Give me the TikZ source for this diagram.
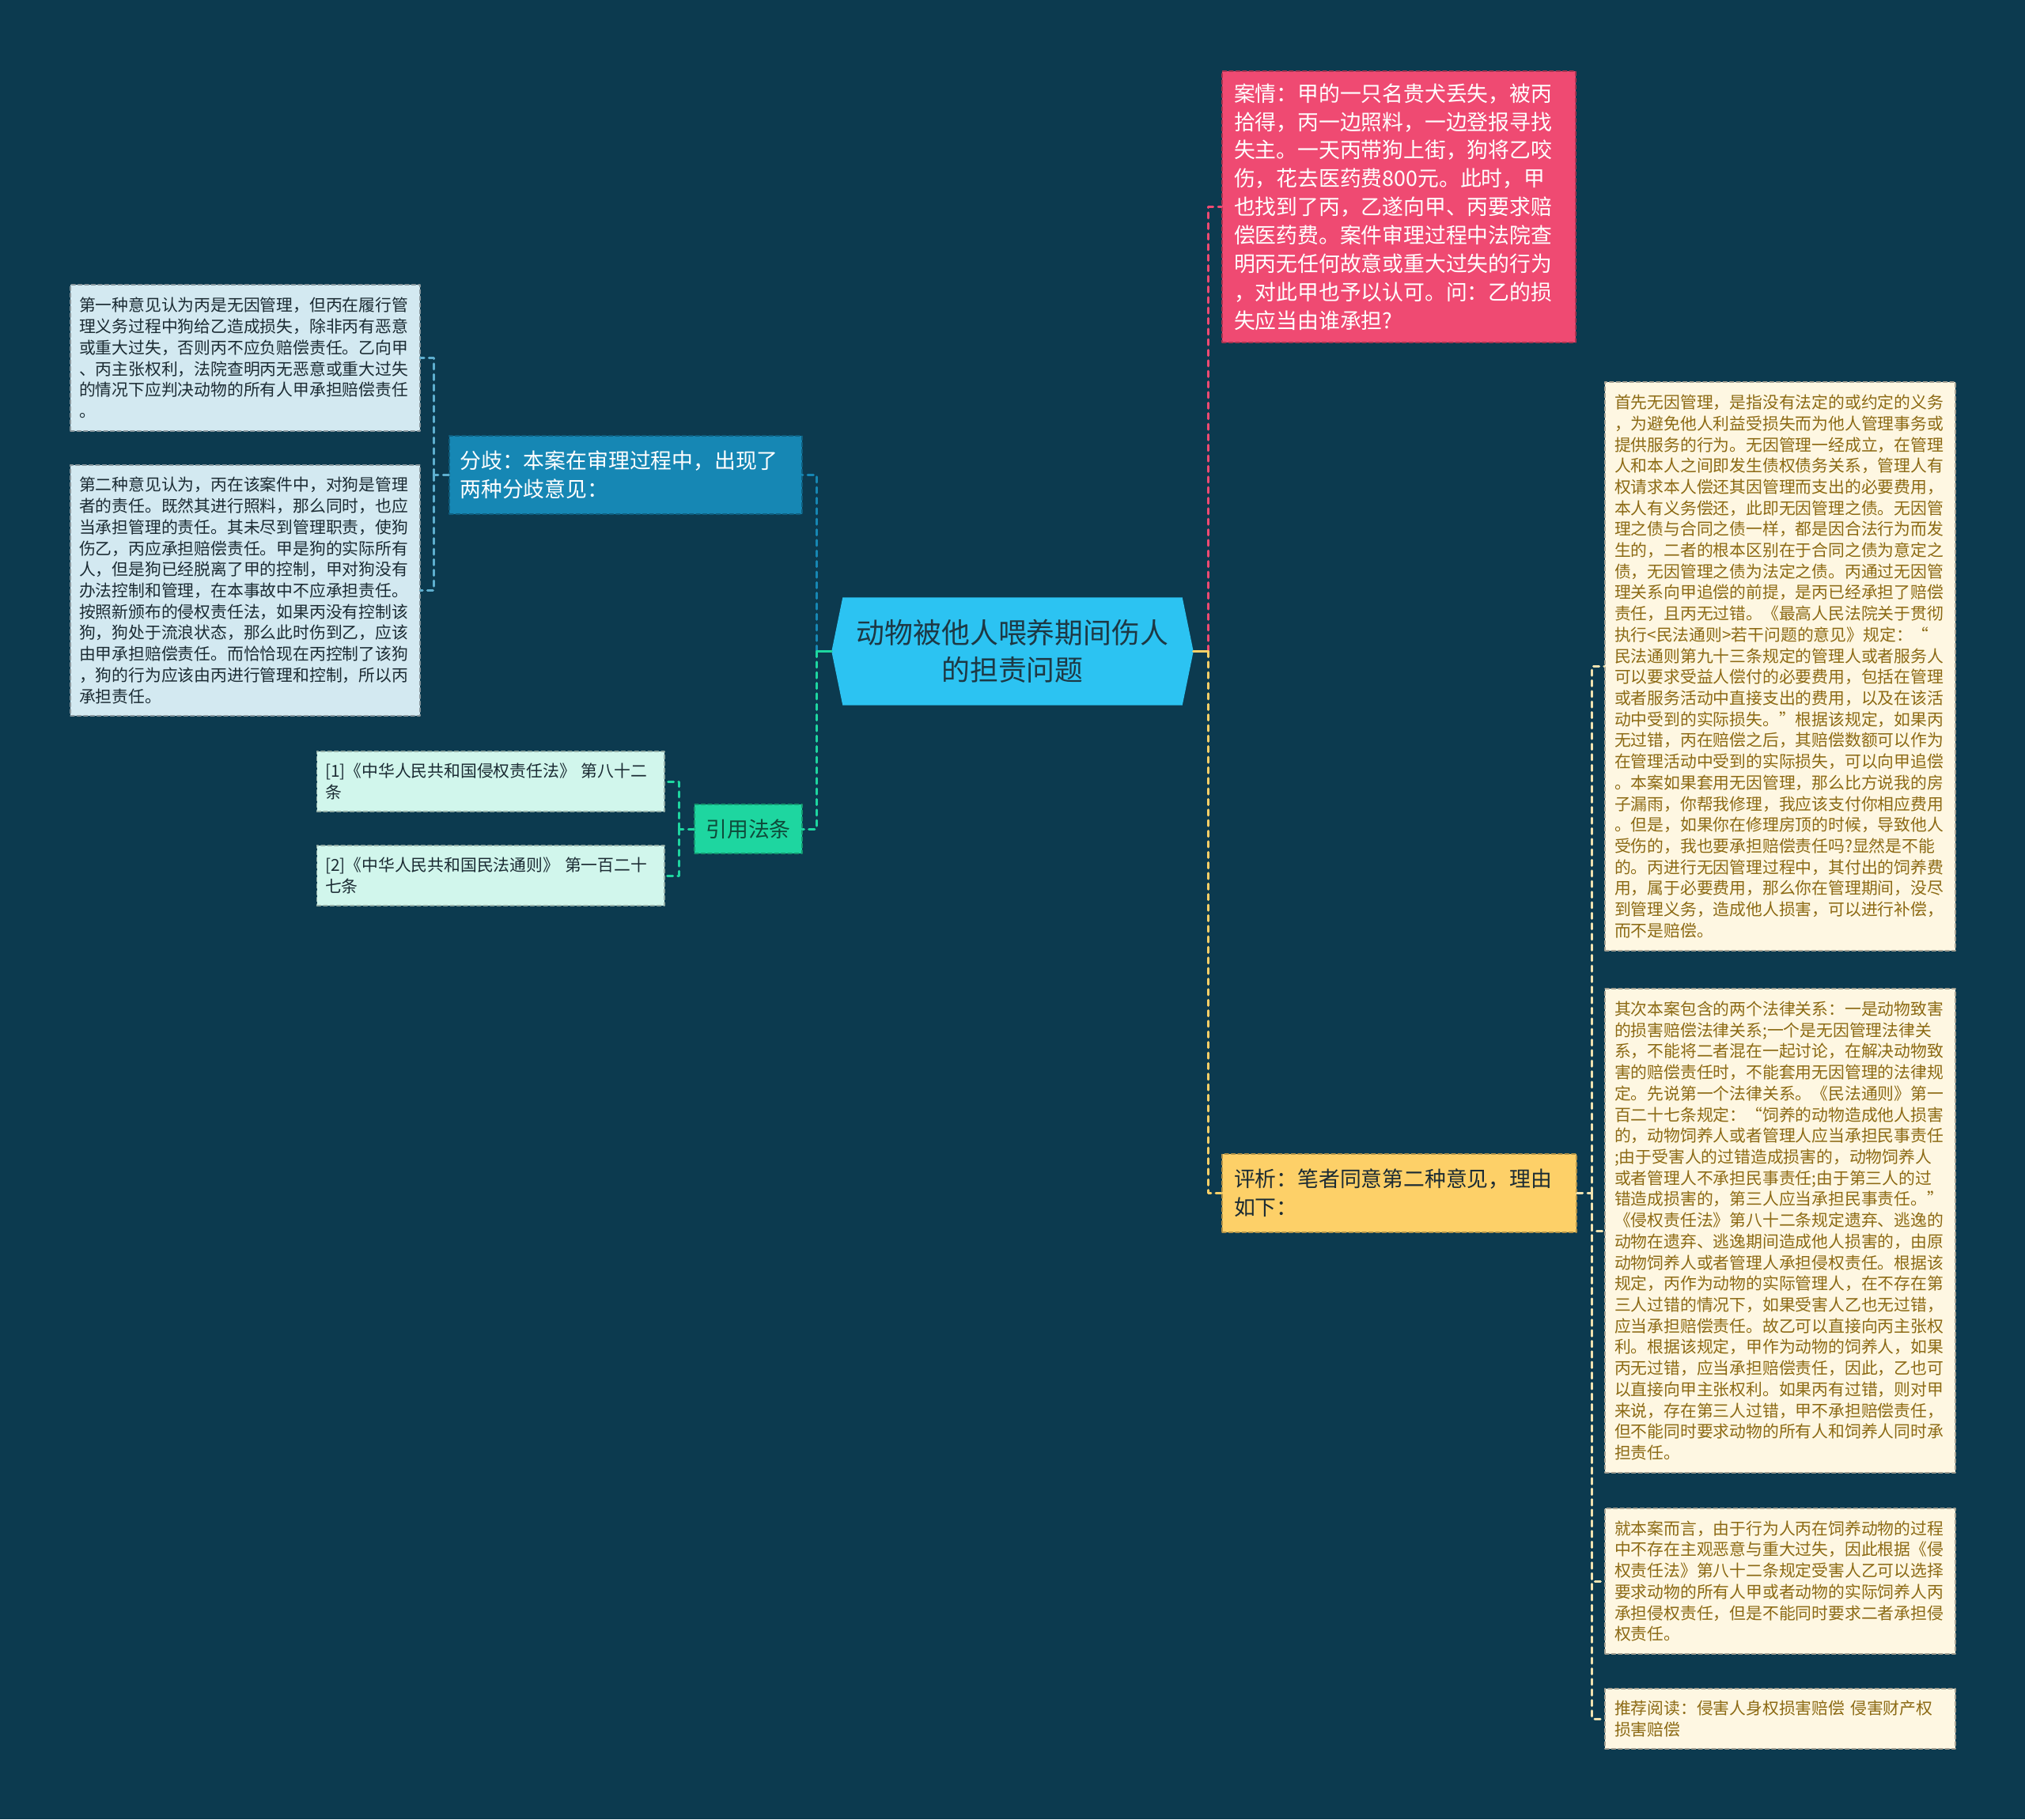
\documentclass[tikz,border=0pt]{standalone}
\usepackage{fontspec}
\setmainfont{Noto Sans CJK SC}
\usetikzlibrary{backgrounds}
\definecolor{bgdark}{HTML}{0C3A4F}
\definecolor{rootblue}{HTML}{2CC3F2}
\definecolor{rootink}{HTML}{1D3844}
\definecolor{casepink}{HTML}{EF4A72}
\definecolor{splitblue}{HTML}{1687B4}
\definecolor{evalyellow}{HTML}{FDD068}
\definecolor{citemint}{HTML}{1ED6A0}
\definecolor{citeink}{HTML}{0E4A3A}
\definecolor{reffill}{HTML}{D1F6EC}
\definecolor{opfill}{HTML}{D3E9F1}
\definecolor{notefill}{HTML}{FEF7E2}
\definecolor{noteink}{HTML}{8C6A14}
\definecolor{darkink}{HTML}{1B2B33}
\definecolor{palelink}{HTML}{5EAFCF}
\definecolor{creamlink}{HTML}{F0E2B0}

\begin{document}
\begin{tikzpicture}[
  x=1cm,y=-1cm,
  line cap=round,line join=round,
  bigtext/.style={font=\fontsize{10.2pt}{13.4pt}\selectfont},
  midtext/.style={font=\fontsize{7.63pt}{10.2pt}\selectfont},
  smalltext/.style={font=\fontsize{5.92pt}{7.6pt}\selectfont},
  boxline/.style={dash pattern=on 1.4pt off 1pt,line width=.4pt},
  rootnode/.style={bigtext,text=rootink,align=center,inner sep=0pt,
    minimum width=4.56cm,minimum height=1.35cm},
  casebox/.style={midtext,fill=casepink,draw=casepink!70!black,boxline,text=white,
    align=left,text width=4.17cm,inner xsep=.15cm,inner ysep=0pt,minimum height=3.43cm},
  splitbox/.style={midtext,fill=splitblue,draw=splitblue!70!black,boxline,text=white,
    align=left,text width=4.19cm,inner xsep=.135cm,inner ysep=0pt,minimum height=.99cm},
  evalbox/.style={midtext,fill=evalyellow,draw=evalyellow!70!black,boxline,text=darkink,
    align=left,text width=4.18cm,inner xsep=.15cm,inner ysep=0pt,minimum height=.99cm},
  citebox/.style={midtext,fill=citemint,draw=citemint!70!black,boxline,text=citeink,
    align=center,inner sep=0pt,minimum width=1.36cm,minimum height=.62cm},
  refbox/.style={smalltext,fill=reffill,draw=reffill!70!black,boxline,text=darkink,
    align=left,text width=4.185cm,inner xsep=.105cm,inner ysep=0pt,minimum height=.76cm},
  opbox/.style={smalltext,fill=opfill,draw=opfill!65!black,boxline,text=darkink,
    align=left,text width=4.20cm,inner xsep=.11cm,inner ysep=0pt},
  notebox/.style={smalltext,fill=notefill,draw=notefill!65!black,boxline,text=noteink,
    align=left,text width=4.19cm,inner xsep=.12cm,inner ysep=0pt},
  stem/.style={line width=.85pt,draw=#1},
  link/.style={line width=.85pt,draw=#1,dash pattern=on 2pt off 1.8pt}
]
\useasboundingbox (0,0) rectangle (25.6,23.0);
\begin{scope}[on background layer]
  \fill[bgdark] (0,0) rectangle (25.6,23.0);
\end{scope}

% Central topic
\node[rootnode] (root) at (12.80,8.235) {动物被他人喂养期间伤人\\的担责问题};
\begin{scope}[on background layer]
  \fill[rootblue] (root.west) -- ([xshift=1.4mm]root.north west)
    -- ([xshift=-1.4mm]root.north east) -- (root.east)
    -- ([xshift=-1.4mm]root.south east) -- ([xshift=1.4mm]root.south west) -- cycle;
\end{scope}

% Right branch: case and comment
\node[casebox] (case) at (17.685,2.615) {案情：甲的一只名贵犬丢失，被丙\\
拾得，丙一边照料，一边登报寻找\\
失主。一天丙带狗上街，狗将乙咬\\
伤，花去医药费800元。此时，甲\\
也找到了丙，乙遂向甲、丙要求赔\\
偿医药费。案件审理过程中法院查\\
明丙无任何故意或重大过失的行为\\
，对此甲也予以认可。问：乙的损\\
失应当由谁承担?};
\node[evalbox] (eval) at (17.69,15.085) {评析：笔者同意第二种意见，理由\\如下：};

\node[notebox,minimum height=7.19cm] (r1) at (22.505,8.425) {首先无因管理，是指没有法定的或约定的义务\\
，为避免他人利益受损失而为他人管理事务或\\
提供服务的行为。无因管理一经成立，在管理\\
人和本人之间即发生债权债务关系，管理人有\\
权请求本人偿还其因管理而支出的必要费用，\\
本人有义务偿还，此即无因管理之债。无因管\\
理之债与合同之债一样，都是因合法行为而发\\
生的，二者的根本区别在于合同之债为意定之\\
债，无因管理之债为法定之债。丙通过无因管\\
理关系向甲追偿的前提，是丙已经承担了赔偿\\
责任，且丙无过错。《最高人民法院关于贯彻\\
执行<民法通则>若干问题的意见》规定：“\\
民法通则第九十三条规定的管理人或者服务人\\
可以要求受益人偿付的必要费用，包括在管理\\
或者服务活动中直接支出的费用，以及在该活\\
动中受到的实际损失。”根据该规定，如果丙\\
无过错，丙在赔偿之后，其赔偿数额可以作为\\
在管理活动中受到的实际损失，可以向甲追偿\\
。本案如果套用无因管理，那么比方说我的房\\
子漏雨，你帮我修理，我应该支付你相应费用\\
。但是，如果你在修理房顶的时候，导致他人\\
受伤的，我也要承担赔偿责任吗?显然是不能\\
的。丙进行无因管理过程中，其付出的饲养费\\
用，属于必要费用，那么你在管理期间，没尽\\
到管理义务，造成他人损害，可以进行补偿，\\
而不是赔偿。};
\node[notebox,minimum height=6.12cm] (r2) at (22.505,15.56) {其次本案包含的两个法律关系：一是动物致害\\
的损害赔偿法律关系;一个是无因管理法律关\\
系，不能将二者混在一起讨论，在解决动物致\\
害的赔偿责任时，不能套用无因管理的法律规\\
定。先说第一个法律关系。《民法通则》第一\\
百二十七条规定：“饲养的动物造成他人损害\\
的，动物饲养人或者管理人应当承担民事责任\\
;由于受害人的过错造成损害的，动物饲养人\\
或者管理人不承担民事责任;由于第三人的过\\
错造成损害的，第三人应当承担民事责任。”\\
《侵权责任法》第八十二条规定遗弃、逃逸的\\
动物在遗弃、逃逸期间造成他人损害的，由原\\
动物饲养人或者管理人承担侵权责任。根据该\\
规定，丙作为动物的实际管理人，在不存在第\\
三人过错的情况下，如果受害人乙也无过错，\\
应当承担赔偿责任。故乙可以直接向丙主张权\\
利。根据该规定，甲作为动物的饲养人，如果\\
丙无过错，应当承担赔偿责任，因此，乙也可\\
以直接向甲主张权利。如果丙有过错，则对甲\\
来说，存在第三人过错，甲不承担赔偿责任，\\
但不能同时要求动物的所有人和饲养人同时承\\
担责任。};
\node[notebox,minimum height=1.84cm] (r3) at (22.505,19.99) {就本案而言，由于行为人丙在饲养动物的过程\\
中不存在主观恶意与重大过失，因此根据《侵\\
权责任法》第八十二条规定受害人乙可以选择\\
要求动物的所有人甲或者动物的实际饲养人丙\\
承担侵权责任，但是不能同时要求二者承担侵\\
权责任。};
\node[notebox,minimum height=.76cm] (r4) at (22.505,21.73) {推荐阅读：侵害人身权损害赔偿 侵害财产权\\
损害赔偿};

% Left branch: two opinions and cited articles
\node[splitbox] (split) at (7.91,6.005) {分歧：本案在审理过程中，出现了\\两种分歧意见：};
\node[opbox,minimum height=1.85cm] (op1) at (3.10,4.525) {第一种意见认为丙是无因管理，但丙在履行管\\
理义务过程中狗给乙造成损失，除非丙有恶意\\
或重大过失，否则丙不应负赔偿责任。乙向甲\\
、丙主张权利，法院查明丙无恶意或重大过失\\
的情况下应判决动物的所有人甲承担赔偿责任\\
。};
\node[opbox,minimum height=3.17cm] (op2) at (3.10,7.465) {第二种意见认为，丙在该案件中，对狗是管理\\
者的责任。既然其进行照料，那么同时，也应\\
当承担管理的责任。其未尽到管理职责，使狗\\
伤乙，丙应承担赔偿责任。甲是狗的实际所有\\
人，但是狗已经脱离了甲的控制，甲对狗没有\\
办法控制和管理，在本事故中不应承担责任。\\
按照新颁布的侵权责任法，如果丙没有控制该\\
狗，狗处于流浪状态，那么此时伤到乙，应该\\
由甲承担赔偿责任。而恰恰现在丙控制了该狗\\
，狗的行为应该由丙进行管理和控制，所以丙\\
承担责任。};
\node[citebox] (cite) at (9.46,10.48) {引用法条};
\node[refbox] (ref1) at (6.2025,9.88) {[1]《中华人民共和国侵权责任法》 第八十二\\条};
\node[refbox] (ref2) at (6.2025,11.07) {[2]《中华人民共和国民法通则》 第一百二十\\七条};

% Connectors
\coordinate (lj) at ([xshift=-1.9mm]root.west);
\coordinate (rj) at ([xshift=1.9mm]root.east);
\coordinate (sj) at ([xshift=-1.9mm]split.west);
\coordinate (cj) at ([xshift=-1.9mm]cite.west);
\coordinate (ej) at ([xshift=1.9mm]eval.east);

\draw[link=casepink] (rj) |- (case.west);
\draw[link=evalyellow] (rj) |- (eval.west);
\draw[stem=evalyellow] (root.east) -- (rj);
\draw[link=splitblue] (lj) |- (split.east);
\draw[link=citemint] (lj) |- (cite.east);
\draw[stem=citemint] (root.west) -- (lj);

\draw[link=palelink] (split.west) -- (sj);
\draw[link=palelink] (sj) |- (op1.east);
\draw[link=palelink] (sj) |- (op2.east);

\draw[link=citemint] (cite.west) -- (cj);
\draw[link=citemint] (cj) |- (ref1.east);
\draw[link=citemint] (cj) |- (ref2.east);

\draw[link=creamlink] (eval.east) -- (ej);
\foreach \n in {r1,r2,r3,r4}
  \draw[link=creamlink] (ej) |- (\n.west);

\end{tikzpicture}
\end{document}
